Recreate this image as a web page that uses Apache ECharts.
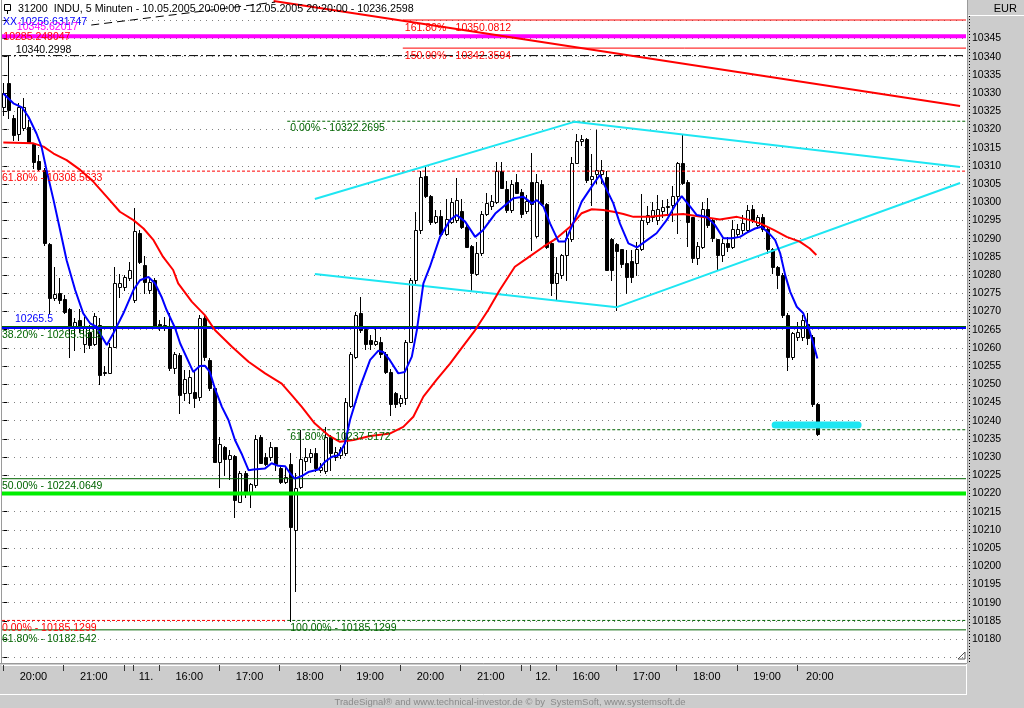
<!DOCTYPE html>
<html><head><meta charset="utf-8">
<script src="https://cdn.jsdelivr.net/npm/echarts@6/dist/echarts.min.js"></script>
<style>html,body{margin:0;padding:0;background:#fff;overflow:hidden}#c{width:1024px;height:708px}</style>
</head><body><div id="c"></div>
<script>
// ---------- DATA ----------
const XMIN = -0.26, XMAX = 191.58;
// 5-minute candles, index 0 = 10.05.2005 20:00 ... index 162 = 12.05.2005 20:20 ; [open, close, low, high]
const ohlc = [
[10326.3,10329.9,10324.0,10332.8],[10332.7,10325.4,10323.2,10340.3],[10323.2,10318.5,10317.1,10324.0],[10318.9,10326.3,10317.1,10327.3],
[10320.3,10326.3,10319.9,10328.6],[10320.7,10316.6,10316.3,10322.6],[10316.0,10311.1,10309.4,10316.3],[10311.4,10309.1,10308.9,10313.0],
[10308.9,10288.7,10288.3,10309.4],[10288.5,10273.6,10269.6,10288.8],[10273.8,10274.8,10273.1,10282.3],[10275.1,10273.1,10272.3,10279.3],
[10273.4,10269.9,10269.6,10274.5],[10270.7,10265.8,10257.6,10270.9],[10265.4,10267.2,10259.4,10268.2],[10267.6,10265.8,10264.4,10270.7],
[10261.2,10265.8,10258.9,10268.6],[10264.4,10260.8,10259.9,10266.3],[10261.2,10268.8,10260.8,10269.6],[10266.3,10252.5,10250.2,10268.2],
[10253.0,10253.4,10252.5,10255.0],[10253.0,10260.3,10253.0,10261.3],[10260.3,10277.7,10260.3,10282.3],[10276.6,10277.7,10274.0,10280.3],
[10276.6,10279.5,10275.9,10280.0],[10279.1,10281.4,10278.6,10283.7],[10273.1,10292.1,10272.7,10298.3],[10291.6,10283.7,10283.2,10292.4],
[10282.9,10278.2,10275.0,10285.2],[10275.9,10278.2,10275.0,10279.5],[10278.6,10266.0,10265.4,10279.1],[10266.5,10265.6,10264.9,10267.6],
[10266.2,10265.5,10264.9,10268.6],[10265.6,10254.4,10253.9,10269.6],[10254.4,10258.3,10253.0,10258.9],[10258.0,10247.0,10242.2,10258.6],
[10247.5,10251.4,10245.7,10253.9],[10247.5,10252.1,10244.9,10253.9],[10247.9,10246.1,10243.8,10253.9],[10246.6,10268.1,10245.7,10269.0],
[10268.3,10257.6,10256.7,10269.3],[10256.7,10248.9,10248.4,10257.2],[10248.9,10228.7,10228.6,10249.0],[10228.7,10233.6,10221.8,10235.6],
[10232.8,10229.6,10225.0,10233.0],[10229.4,10230.5,10223.9,10231.9],[10230.3,10218.2,10213.6,10230.5],[10217.7,10225.5,10217.7,10226.1],
[10225.5,10220.0,10219.0,10226.1],[10220.0,10222.5,10216.3,10222.8],[10222.3,10234.9,10221.8,10236.0],[10235.4,10228.3,10228.3,10236.0],
[10230.1,10228.1,10227.8,10231.0],[10229.9,10232.7,10229.2,10234.2],[10232.7,10228.1,10226.4,10232.8],[10226.9,10223.2,10222.8,10227.8],
[10223.2,10224.4,10222.8,10227.3],[10228.1,10210.8,10185.1,10231.0],[10209.9,10221.4,10193.3,10225.5],[10221.7,10229.4,10221.4,10237.4],
[10229.0,10229.9,10226.4,10232.5],[10229.9,10231.0,10228.7,10232.1],[10231.0,10226.9,10226.2,10232.4],[10226.4,10227.3,10225.9,10228.4],
[10226.2,10235.4,10225.5,10238.3],[10235.6,10231.2,10226.4,10236.0],[10230.1,10231.5,10229.2,10232.8],[10230.5,10232.1,10229.7,10232.8],
[10231.0,10245.1,10230.5,10246.1],[10244.0,10258.3,10243.7,10258.9],[10257.6,10269.0,10257.1,10269.9],[10269.5,10264.9,10264.4,10274.0],
[10265.1,10261.2,10259.6,10265.2],[10262.1,10261.2,10259.6,10263.5],[10261.2,10261.9,10260.8,10265.1],[10261.7,10258.3,10257.6,10263.0],
[10258.3,10253.4,10253.2,10258.9],[10253.4,10244.7,10241.5,10254.1],[10247.5,10244.7,10243.8,10247.9],[10244.9,10246.1,10244.0,10247.0],
[10246.1,10261.7,10244.6,10262.2],[10261.7,10278.6,10261.6,10279.2],[10278.6,10292.4,10277.7,10297.4],[10292.4,10307.0,10291.5,10308.5],
[10307.2,10301.7,10301.5,10309.8],[10301.7,10294.7,10294.0,10301.9],[10294.7,10296.2,10294.2,10297.9],[10296.2,10291.3,10290.9,10297.9],
[10291.3,10295.3,10291.0,10300.8],[10294.7,10300.2,10294.2,10301.1],[10295.1,10300.6,10294.7,10306.6],[10297.6,10293.3,10292.9,10300.8],
[10293.3,10287.8,10287.8,10293.8],[10288.0,10280.5,10275.9,10288.2],[10280.3,10286.0,10280.0,10289.2],[10286.0,10296.8,10285.5,10297.6],
[10296.8,10299.9,10296.5,10302.6],[10299.1,10300.4,10298.1,10302.1],[10300.0,10308.6,10299.7,10311.1],[10308.6,10304.0,10303.8,10311.1],
[10303.6,10297.9,10297.4,10305.9],[10297.9,10305.0,10297.4,10306.0],[10305.6,10302.6,10302.5,10307.9],[10302.9,10296.8,10296.0,10303.6],
[10297.7,10300.4,10297.0,10301.9],[10305.7,10299.5,10286.9,10313.6],[10290.7,10305.7,10290.5,10307.7],[10305.0,10299.5,10299.2,10306.0],
[10299.5,10287.8,10287.4,10299.8],[10288.9,10277.7,10274.5,10289.2],[10277.7,10280.5,10273.3,10285.0],[10280.0,10285.4,10279.2,10285.9],
[10285.4,10290.1,10278.6,10292.4],[10289.8,10310.9,10289.5,10312.4],[10310.9,10316.8,10310.7,10318.9],[10316.9,10317.3,10315.7,10318.5],
[10317.3,10306.1,10305.6,10317.7],[10306.3,10307.2,10299.2,10313.4],[10307.8,10309.0,10305.2,10319.9],[10307.8,10308.8,10305.2,10311.7],
[10307.0,10281.4,10281.4,10308.6],[10289.8,10281.4,10278.6,10290.1],[10288.5,10286.7,10270.4,10288.7],[10287.1,10283.0,10282.3,10287.3],
[10283.4,10279.5,10275.1,10286.9],[10284.0,10279.5,10278.0,10286.9],[10283.2,10287.3,10280.0,10289.2],[10287.3,10295.1,10287.0,10302.3],
[10294.7,10296.4,10294.0,10299.0],[10296.0,10297.9,10295.0,10300.0],[10295.1,10298.2,10294.0,10302.0],[10297.7,10298.8,10296.0,10300.6],
[10298.6,10299.1,10296.5,10301.0],[10299.2,10301.7,10295.0,10304.6],[10301.7,10310.7,10291.5,10311.1],[10310.7,10305.2,10305.0,10318.5],
[10305.7,10294.7,10288.0,10306.0],[10295.9,10284.6,10283.7,10296.0],[10284.6,10288.0,10283.0,10289.0],[10287.8,10298.1,10287.5,10300.0],
[10298.1,10293.7,10293.3,10301.1],[10295.1,10290.1,10289.5,10295.5],[10289.8,10285.5,10281.4,10290.0],[10285.5,10288.7,10284.0,10290.0],
[10288.7,10287.8,10286.5,10290.5],[10287.8,10292.6,10287.5,10295.1],[10291.4,10292.8,10290.5,10294.0],[10292.4,10294.3,10291.5,10296.5],
[10292.4,10297.9,10291.9,10299.2],[10298.1,10295.1,10294.5,10299.2],[10293.7,10295.9,10293.0,10296.5],[10296.0,10292.8,10292.2,10296.8],
[10292.8,10287.3,10286.0,10293.3],[10287.3,10282.3,10280.5,10287.5],[10282.3,10280.0,10276.4,10282.5],[10280.0,10269.0,10268.4,10280.5],
[10269.0,10257.6,10253.9,10269.5],[10257.6,10264.0,10257.0,10264.5],[10263.0,10264.4,10262.2,10267.2],[10263.0,10267.6,10262.2,10269.0],
[10266.7,10262.6,10261.2,10269.5],[10263.1,10244.7,10244.0,10263.5],[10244.7,10236.3,10236.0,10244.9]
];
// short moving average (blue) and long moving average (red), [bar index, value]
const blueMA = [[0,10329.9],[2,10327.2],[3.7,10326.1],[5,10323.5],[6.6,10318.9],[7.6,10315.3],[8.6,10308.9],[10,10300.6],[11.3,10292.4],[12.6,10284.1],[14.3,10275.9],[15.9,10269.5],[17.3,10266.7],[18.6,10265.8],[19.6,10263.1],[20.6,10260.8],[21.9,10264.0],[23.9,10269.5],[25.9,10275.9],[27.2,10278.6],[28.9,10279.5],[30.2,10277.7],[31.5,10274.0],[32.5,10270.4],[34.2,10265.4],[35.2,10261.2],[37.8,10253.4],[39.1,10255.0],[40.1,10255.1],[41.1,10253.4],[42.1,10248.9],[43.5,10243.8],[44.8,10240.2],[46.1,10234.7],[47.4,10231.0],[48.8,10226.4],[49.8,10226.6],[52.1,10226.9],[53.4,10228.3],[54.7,10227.6],[56.1,10227.5],[57.1,10225.5],[58,10224.1],[59.4,10224.8],[60.7,10225.9],[62.7,10226.6],[64,10228.7],[65.4,10230.1],[66.7,10230.5],[68,10233.8],[69,10240.2],[71,10249.3],[73,10256.7],[74.6,10259.2],[75.6,10258.9],[76.9,10256.7],[78.6,10253.0],[79.9,10253.4],[81.3,10257.6],[82.3,10264.9],[83.6,10277.7],[84.9,10282.3],[86.9,10290.5],[88.9,10295.1],[90.2,10296.5],[91.9,10294.7],[93.9,10290.5],[95.5,10292.4],[97.9,10296.9],[99.5,10298.8],[101.5,10301.1],[103.5,10301.5],[105.2,10299.7],[106.2,10300.6],[107.5,10298.8],[108.8,10294.2],[110.5,10289.2],[111.8,10289.2],[113.4,10294.2],[115.1,10300.2],[117.1,10304.3],[118.7,10307.5],[120.1,10303.4],[121.4,10299.7],[122.7,10294.2],[124.4,10288.7],[126.1,10287.6],[127.7,10289.2],[130,10291.5],[132,10295.1],[133.7,10299.2],[135,10301.7],[136.7,10298.8],[138,10296.5],[140,10296.0],[141.6,10293.8],[143.3,10290.1],[145,10290.1],[146.6,10290.5],[147.9,10291.6],[149.6,10292.8],[150.9,10293.3],[152.3,10291.6],[153.6,10289.6],[154.6,10286.0],[155.6,10280.0],[156.6,10275.4],[157.9,10271.3],[159.2,10269.5],[160.2,10265.8],[161.2,10261.2],[162,10257.1]];
const redMA = [[0,10316.4],[6,10316.2],[8,10315.3],[10,10313.4],[12.6,10311.6],[15.3,10308.9],[17.9,10305.7],[20.6,10301.5],[23.2,10297.4],[25.9,10295.1],[27.9,10292.8],[29.9,10289.6],[31.8,10285.0],[33.8,10281.4],[34.8,10277.7],[37.5,10272.7],[40.1,10269.0],[42.1,10264.9],[45.5,10260.3],[48.8,10256.2],[52.1,10253.0],[55.4,10250.2],[57.4,10247.0],[59.4,10243.8],[62,10239.2],[64.7,10236.0],[67,10234.2],[69.7,10234.7],[73,10235.8],[77,10236.5],[79.6,10238.3],[81.6,10241.1],[83.6,10246.6],[86.2,10251.2],[88.9,10255.7],[90.9,10259.4],[93.9,10264.9],[96.5,10270.4],[98.8,10275.9],[101.8,10282.3],[104.2,10284.6],[107.5,10287.8],[110.1,10290.1],[112.8,10293.3],[115.1,10297.0],[117.1,10298.1],[119.4,10297.9],[121.4,10297.4],[123.4,10296.8],[125.4,10296.0],[128.7,10296.0],[132,10296.5],[135.3,10296.8],[138.6,10296.1],[142.6,10295.3],[146,10296.0],[148.6,10295.1],[150.6,10294.2],[153.3,10292.4],[155.9,10290.5],[158.5,10289.2],[160.5,10287.3],[161.8,10285.5]];
// drawn trendlines [bar index, value]
const trendRed = [[53.8,10355.3],[190.4,10326.45]];
const trendXX = [[17.5,10348.7],[54.1,10355.0]];
const cyanUpper = [[62.0,10300.9],[113.6,10322.1],[190.4,10309.7]];
const cyanLower = [[62.0,10280.3],[122.1,10271.2],[190.4,10305.3]];
const targetBar = [[153.6,10238.8],[170.1,10238.8]];
// horizontal levels
const levelValues = [10350.0812,10345.62017,10342.3594,10340.2998,10322.2695,10308.5633,10265.5819,10265.5,10237.5172,10224.0649,10220.0,10185.1299,10185.1299,10182.542];
const levelFrom   = [79.5,XMIN,79.5,XMIN,56.5,XMIN,XMIN,XMIN,56.5,XMIN,XMIN,XMIN,56.5,XMIN];
const levelTo     = [XMAX,XMAX,XMAX,XMAX,XMAX,XMAX,XMAX,XMAX,XMAX,XMAX,XMAX,56.5,XMAX,XMAX];
// text annotations: anchor [bar index, value]
const labelTexts = ['161.80% - 10350.0812','150.00% - 10342.3594','10340.2998','XX 10256.631747','10345.62017','10285.248047','0.00% - 10322.2695','61.80% - 10308.5633','10265.5','38.20% - 10265.5819','61.80% - 10237.5172','50.00% - 10224.0649','0.00% - 10185.1299','100.00% - 10185.1299','61.80% - 10182.542'];
const labelX = [79.9,79.9,2.5,-0.06,2.7,0.0,57.1,XMIN,2.33,XMIN,57.1,XMIN,XMIN,57.1,XMIN];
const labelV = [10347.75,10340.05,10341.8,10349.4,10348.2,10345.33,10320.4,10306.67,10267.9,10263.5,10235.5,10222.1,10183.0,10183.0,10180.0];
// axis ticks / labels
const yLabelMin = 10180, yLabelMax = 10345;
const xTickValues = [0,12,24,25.8,31,43,55,67,79,91,103,104.8,110,122,134,146,158];
const xLabelValues = [6,18,28.4,37,49,61,73,85,97,107.4,116,128,140,152,162.5];
const xLabelTexts = ['20:00','21:00','11.','16:00','17:00','18:00','19:00','20:00','21:00','12.','16:00','17:00','18:00','19:00','20:00'];
const headerText = '31200  INDU, 5 Minuten - 10.05.2005 20:00:00 - 12.05.2005 20:20:00 - 10236.2598';

// ---------- STYLE ----------
const RED='#ff0000', MAG='#ff00ff', DKG='#006400', LIME='#00ee00', BLUE='#0000ff', CYAN='#1ee6f2', GRAY='#cccccc';
const FONT = '"Liberation Sans", Arial, sans-serif';
const levelColor = [RED,MAG,RED,'#000',DKG,RED,DKG,BLUE,DKG,DKG,LIME,RED,DKG,DKG];
const levelWidth = [1,4,1,1,1,1,3,2,1,1,4,1,1,1];
const levelDash  = ['solid','solid','solid',[9,3,2,3],[3,2],[3,2],'solid','solid',[3,2],'solid','solid',[3,2],[3,2],'solid'];
const labelColor = [RED,RED,'#000',BLUE,MAG,RED,DKG,RED,BLUE,DKG,DKG,DKG,RED,DKG,DKG];

const chart = echarts.init(document.getElementById('c'), null, {renderer:'canvas'});
const series = [];

// candles
series.push({
  type:'custom', name:'candles', coordinateSystem:'cartesian2d', z:3,
  data: ohlc.map((d,i)=>[i,d[0],d[1],d[2],d[3]]),
  encode:{x:0,y:[1,2,3,4]},
  renderItem:function(params, api){
    const i=api.value(0), o=api.value(1), c=api.value(2), l=api.value(3), h=api.value(4);
    const pH=api.coord([i,h]), pL=api.coord([i,l]), pO=api.coord([i,o]), pC=api.coord([i,c]);
    const P=Math.round(pH[0]);
    const top=Math.round(Math.min(pO[1],pC[1]))+0.5, bot=Math.round(Math.max(pO[1],pC[1]))+0.5;
    const up=c>=o;
    return {type:'group', children:[
      {type:'line', shape:{x1:P+0.5,y1:Math.round(pH[1]),x2:P+0.5,y2:Math.round(pL[1])+1}, style:{stroke:'#000',lineWidth:1}},
      {type:'rect', shape:{x:P-0.5,y:top,width:3,height:Math.max(bot-top,1)}, style:{fill:up?'#fff':'#000',stroke:'#000',lineWidth:1}}
    ]};
  }
});
// levels
levelValues.forEach((v,k)=>{
  series.push({type:'line', z:4, clip:false, silent:true, showSymbol:false, symbol:'none', animation:false,
    data:[[levelFrom[k],v],[levelTo[k],v]],
    lineStyle:{color:levelColor[k], width:levelWidth[k], type:levelDash[k]}});
});
function seg(data,color,width,dash,cap){
  series.push({type:'line', z:5, clip:false, silent:true, showSymbol:false, symbol:'none', data:data,
    lineStyle:{color:color,width:width,type:dash||'solid',cap:cap||'butt'}});
}
seg(cyanUpper,CYAN,2); seg(cyanLower,CYAN,2);
seg(trendRed,RED,2);
seg(trendXX,'#000',1,[8,5]);
seg(redMA,RED,2);
seg(blueMA,BLUE,2);
seg(targetBar,CYAN,7,'solid','round');
// labels
series.push({type:'custom', coordinateSystem:'cartesian2d', z:8, silent:true,
  data: labelTexts.map((t,k)=>[labelX[k],labelV[k]]),
  renderItem:function(params, api){
    const pt=api.coord([api.value(0),api.value(1)]);
    const k=params.dataIndex;
    return {type:'text', x:pt[0], y:pt[1], style:{text:labelTexts[k], fill:labelColor[k], font:'10.5px '+FONT, align:'left', verticalAlign:'middle'}};
  }
});

const option = {
  animation:false,
  backgroundColor:'#ffffff',
  grid:{left:2, top:20.3, width:964, height:637, containLabel:false},
  xAxis:{type:'value', min:XMIN, max:XMAX, position:'bottom', offset:7.7,
    axisLine:{show:true, lineStyle:{color:'#ffffff', width:1}},
    axisTick:{show:true, length:6, customValues:xTickValues, lineStyle:{color:'#333'}},
    axisLabel:{show:true, customValues:xLabelValues, margin:6, color:'#000', fontSize:11, fontFamily:FONT,
      formatter:function(val){const k=xLabelValues.findIndex(x=>Math.abs(x-val)<1e-6); return k>=0?xLabelTexts[k]:'';}},
    splitLine:{show:false}},
  yAxis:{type:'value', min:10175, max:10350, interval:5, position:'right', offset:3,
    axisLine:{show:false},
    axisTick:{show:true, length:4, lineStyle:{color:'#000'}},
    axisLabel:{show:true, margin:3, color:'#000', fontSize:10.5, fontFamily:FONT,
      formatter:function(v){return (v<yLabelMin||v>yLabelMax)?'':String(Math.round(v));}},
    splitLine:{show:true, lineStyle:{color:'#808080', width:1, type:[1,5]}}},
  graphic:[
    {type:'rect', z:-10, shape:{x:967,y:0,width:57,height:708}, style:{fill:GRAY}},
    {type:'rect', z:-10, shape:{x:0,y:663,width:1024,height:45}, style:{fill:GRAY}},
    {type:'line', z:1, shape:{x1:1.5,y1:0,x2:1.5,y2:663}, style:{stroke:'#9a9a9a',lineWidth:1}},
    {type:'line', z:1, shape:{x1:967.5,y1:0,x2:967.5,y2:663}, style:{stroke:'#9a9a9a',lineWidth:1}},
    {type:'line', z:1, shape:{x1:0,y1:663.5,x2:967,y2:663.5}, style:{stroke:'#9a9a9a',lineWidth:1}},
    {type:'line', z:1, shape:{x1:968,y1:15.5,x2:1024,y2:15.5}, style:{stroke:'#ffffff',lineWidth:1}},
    {type:'line', z:1, shape:{x1:0,y1:694.5,x2:967,y2:694.5}, style:{stroke:'#ffffff',lineWidth:1}},
    {type:'line', z:1, shape:{x1:966.5,y1:664,x2:966.5,y2:695}, style:{stroke:'#ffffff',lineWidth:1}},
    {type:'line', z:1, shape:{x1:969.5,y1:16,x2:969.5,y2:663}, style:{stroke:'#000',lineWidth:1,lineDash:[1,2]}},
    {type:'text', z:20, x:1017, y:9, style:{text:'EUR', fill:'#000', font:'11px '+FONT, align:'right', verticalAlign:'middle'}},
    {type:'rect', z:20, shape:{x:4.5,y:4.5,width:6,height:6}, style:{fill:'#fff',stroke:'#000',lineWidth:1}},
    {type:'line', z:20, shape:{x1:7.5,y1:10,x2:7.5,y2:14}, style:{stroke:'#000',lineWidth:1}},
    {type:'text', z:20, x:18, y:9.5, style:{text:headerText, fill:'#000', font:'10.7px '+FONT, align:'left', verticalAlign:'middle'}},
    {type:'text', z:20, x:510, y:702, style:{text:'TradeSignal\u00ae and www.technical-investor.de \u00a9 by  SystemSoft, www.systemsoft.de', fill:'#8a8a8a', font:'9.5px '+FONT, align:'center', verticalAlign:'middle'}},
    {type:'polyline', z:20, shape:{points:[[958,659],[965,652],[965,659],[958,659]]}, style:{fill:'none',stroke:'#555',lineWidth:1}}
  ],
  series:series
};
chart.setOption(option);
</script>
</body></html>
